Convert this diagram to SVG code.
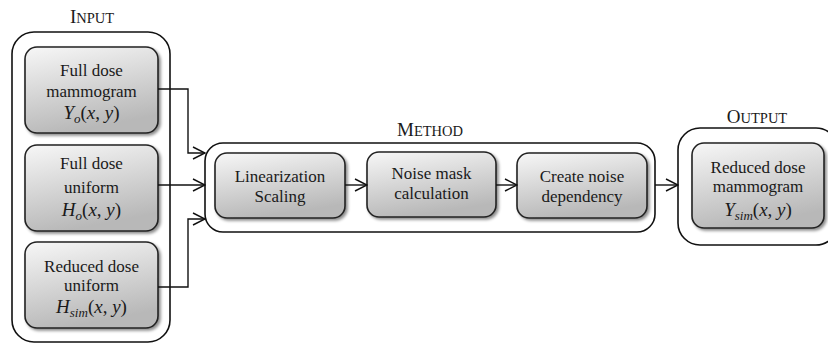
<svg xmlns="http://www.w3.org/2000/svg" width="828" height="347" viewBox="0 0 828 347">
<defs>
<linearGradient id="g" x1="0" y1="0" x2="0.3" y2="1">
<stop offset="0" stop-color="#f7f7f7"/>
<stop offset="1" stop-color="#b8b8b8"/>
</linearGradient>
<filter id="sh" x="-10%" y="-10%" width="130%" height="130%">
<feDropShadow dx="2" dy="2" stdDeviation="1.5" flood-color="#000" flood-opacity="0.45"/>
</filter>
<marker id="arr" markerWidth="14" markerHeight="14" refX="13" refY="7" orient="auto" markerUnits="userSpaceOnUse">
<path d="M1,1 L13,7 L1,13" fill="none" stroke="#111" stroke-width="1.4"/>
</marker>
<style>
.outer{fill:#fff;stroke:#111;stroke-width:1.6}
.inner{fill:url(#g);stroke:#222;stroke-width:1.6;filter:url(#sh)}
text{font-family:"Liberation Serif","Times New Roman",serif;fill:#1a1a1a;text-anchor:middle}
.t{font-size:17px}
.m{font-size:19px;font-style:italic}
.r{font-style:normal}
.sub{font-size:13px;font-style:italic}
.lbl{font-size:19px}
.sc{font-size:14.5px}
.c{fill:none;stroke:#111;stroke-width:1.4;marker-end:url(#arr)}
</style>
</defs>

<g id="input">
<rect class="outer" x="12" y="32" width="158" height="310" rx="22"/>
<text class="lbl" x="92" y="23">I<tspan class="sc">NPUT</tspan></text>
</g>
<g id="full-dose-mammogram">
<rect class="inner" x="25" y="47" width="133" height="86" rx="12"/>
<text class="t" x="91.5" y="76">Full dose</text>
<text class="t" x="91.5" y="97">mammogram</text>
<text class="m" x="91.5" y="119">Y<tspan class="sub" dy="4">o</tspan><tspan class="r" dy="-4">(</tspan>x<tspan class="r">,</tspan> y<tspan class="r">)</tspan></text>
</g>
<g id="full-dose-uniform">
<rect class="inner" x="25" y="145" width="133" height="86" rx="12"/>
<text class="t" x="91.5" y="169">Full dose</text>
<text class="t" x="91.5" y="193">uniform</text>
<text class="m" x="91.5" y="216">H<tspan class="sub" dy="4">o</tspan><tspan class="r" dy="-4">(</tspan>x<tspan class="r">,</tspan> y<tspan class="r">)</tspan></text>
</g>
<g id="reduced-dose-uniform">
<rect class="inner" x="25" y="242" width="133" height="86" rx="12"/>
<text class="t" x="91.5" y="272">Reduced dose</text>
<text class="t" x="91.5" y="291">uniform</text>
<text class="m" x="91.5" y="313">H<tspan class="sub" dy="4">sim</tspan><tspan class="r" dy="-4">(</tspan>x<tspan class="r">,</tspan> y<tspan class="r">)</tspan></text>
</g>

<g id="method">
<rect class="outer" x="205" y="143" width="450" height="89" rx="18"/>
<text class="lbl" x="430" y="136">M<tspan class="sc">ETHOD</tspan></text>
</g>
<g id="linearization">
<rect class="inner" x="215" y="153" width="130" height="65" rx="12"/>
<text class="t" x="280" y="182">Linearization</text>
<text class="t" x="280" y="202">Scaling</text>
</g>
<g id="noise-mask">
<rect class="inner" x="367" y="152" width="129" height="65" rx="12"/>
<text class="t" x="431.5" y="179">Noise mask</text>
<text class="t" x="431.5" y="199">calculation</text>
</g>
<g id="noise-dependency">
<rect class="inner" x="517" y="153" width="130" height="65" rx="12"/>
<text class="t" x="582" y="182">Create noise</text>
<text class="t" x="582" y="202">dependency</text>
</g>

<g id="output">
<rect class="outer" x="678" y="128" width="160" height="117" rx="22"/>
<text class="lbl" x="757" y="123">O<tspan class="sc">UTPUT</tspan></text>
</g>
<g id="reduced-dose-mammogram">
<rect class="inner" x="692" y="143" width="132" height="85" rx="12"/>
<text class="t" x="758" y="173">Reduced dose</text>
<text class="t" x="758" y="192">mammogram</text>
<text class="m" x="758" y="216">Y<tspan class="sub" dy="4">sim</tspan><tspan class="r" dy="-4">(</tspan>x<tspan class="r">,</tspan> y<tspan class="r">)</tspan></text>
</g>

<g id="connectors">
<path class="c" d="M158,89 H188 V153 H205"/>
<path class="c" d="M158,185 H205"/>
<path class="c" d="M158,287 H188 V219 H205"/>
<path class="c" d="M345,185 H367"/>
<path class="c" d="M496,185 H517"/>
<path class="c" d="M655,185 H678"/>
</g>
</svg>
